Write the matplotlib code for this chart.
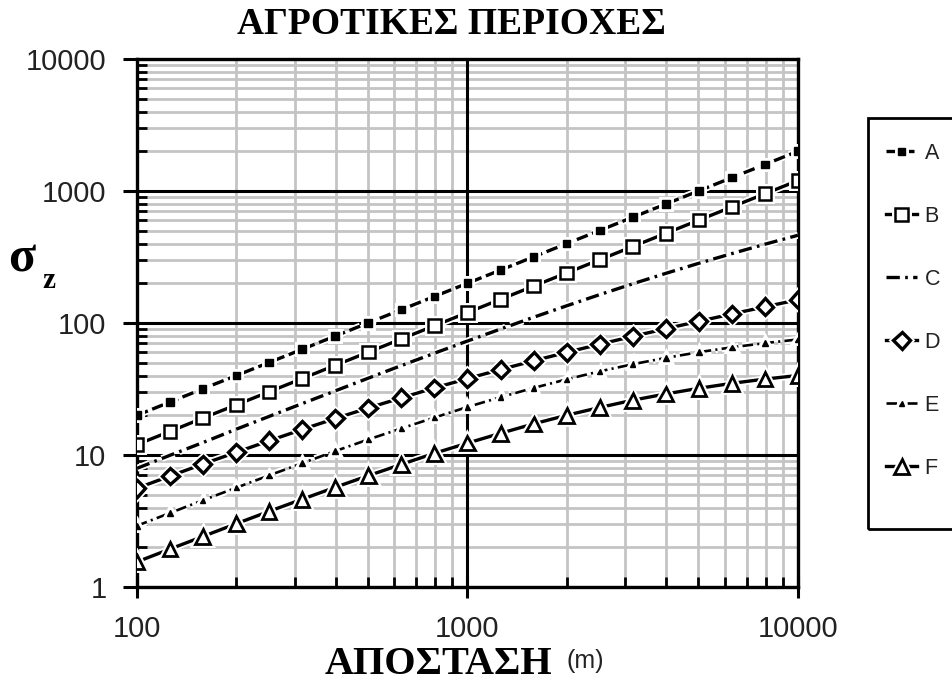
import matplotlib.pyplot as plt
import matplotlib.patheffects as pe
from matplotlib.patches import Rectangle
from matplotlib.ticker import LogLocator, NullFormatter, FixedLocator, FixedFormatter

plt.rcParams['font.family'] = ['Liberation Sans', 'DejaVu Sans']

# distance (m)
distance = [100, 126, 158, 200, 251, 316, 398, 501, 631, 794, 1000,
            1259, 1585, 1995, 2512, 3162, 3981, 5012, 6310, 7943, 10000]

# sigma_z (m) per stability class
sz_A = [20.0, 25.2, 31.7, 40.0, 50.2, 63.2, 79.6, 100.2, 126.2, 158.8, 200.0,
        251.8, 317.0, 399.0, 502.4, 632.4, 796.2, 1002.4, 1262.0, 1588.6, 2000.0]
sz_B = [12.0, 15.1, 19.0, 24.0, 30.1, 37.9, 47.8, 60.1, 75.7, 95.3, 120.0,
        151.1, 190.2, 239.4, 301.4, 379.5, 477.7, 601.4, 757.2, 953.2, 1200.0]
sz_C = [7.92, 9.96, 12.4, 15.7, 19.6, 24.5, 30.6, 38.2, 47.6, 59.0, 73.0,
        90.0, 110.5, 134.9, 164.0, 198.0, 237.6, 283.4, 335.6, 395.0, 461.9]
sz_D = [5.60, 6.93, 8.52, 10.5, 12.8, 15.6, 18.9, 22.7, 27.1, 32.2, 37.9,
        44.4, 51.7, 59.9, 69.0, 79.2, 90.5, 103.0, 117.0, 132.6, 150.0]
sz_E = [2.91, 3.64, 4.53, 5.66, 7.00, 8.66, 10.7, 13.1, 15.9, 19.2, 23.1,
        27.4, 32.2, 37.4, 43.0, 48.7, 54.4, 60.1, 65.4, 70.4, 75.0]
sz_F = [1.55, 1.94, 2.41, 3.02, 3.74, 4.62, 5.69, 6.97, 8.49, 10.3, 12.3,
        14.6, 17.2, 20.0, 22.9, 26.0, 29.0, 32.0, 34.9, 37.6, 40.0]

x_ticks = [100, 1000, 10000]
x_tick_labels = ['100', '1000', '10000']
y_ticks = [1, 10, 100, 1000, 10000]
y_tick_labels = ['1', '10', '100', '1000', '10000']

fig = plt.figure(figsize=(9.52, 6.90), dpi=100)
ax = fig.add_axes([0.1439, 0.1493, 0.8382 - 0.1439, 0.9145 - 0.1493])

halo = [pe.Stroke(linewidth=5, foreground='white'), pe.Normal()]
lw = 2.4

ax.plot(distance, sz_A, color='black', lw=lw, ls=(0, (3.5, 1.4)), marker='s',
        ms=5.5, mfc='black', mec='black', label='A', path_effects=halo, zorder=5)
ax.plot(distance, sz_B, color='black', lw=lw, ls='-', marker='s',
        ms=9, mfc='white', mec='black', mew=1.8, label='B', path_effects=halo, zorder=5)
ax.plot(distance, sz_C, color='black', lw=lw, ls=(0, (4, 1.6, 0.8, 1.6)),
        label='C', path_effects=halo, zorder=5)
ax.plot(distance, sz_D, color='black', lw=lw, ls='-', marker='D',
        ms=8.5, mfc='white', mec='black', mew=2.4, label='D', path_effects=halo, zorder=5)
ax.plot(distance, sz_E, color='black', lw=1.9, ls=(0, (4, 1.6, 0.8, 1.6)), marker='^',
        ms=4, mfc='black', mec='black', label='E', path_effects=halo, zorder=5)
ax.plot(distance, sz_F, color='black', lw=lw, ls='-', marker='^',
        ms=10.5, mfc='white', mec='black', mew=2.0, label='F', path_effects=halo, zorder=5)

ax.set_xscale('log')
ax.set_yscale('log')
ax.set_xlim(100, 10000)
ax.set_ylim(1, 10000)

ax.xaxis.set_major_locator(FixedLocator(x_ticks))
ax.xaxis.set_major_formatter(FixedFormatter(x_tick_labels))
ax.yaxis.set_major_locator(FixedLocator(y_ticks))
ax.yaxis.set_major_formatter(FixedFormatter(y_tick_labels))
ax.xaxis.set_minor_locator(LogLocator(base=10, subs=range(2, 10)))
ax.yaxis.set_minor_locator(LogLocator(base=10, subs=range(2, 10)))
ax.xaxis.set_minor_formatter(NullFormatter())
ax.yaxis.set_minor_formatter(NullFormatter())

ax.grid(which='minor', color='#c4c4c4', lw=2.0)
ax.grid(axis='y', which='major', color='black', lw=2.2)
for t in x_ticks[1:-1]:
    ax.axvline(t, color='black', lw=2.2, zorder=0.6)
ax.set_axisbelow(True)

for s in ax.spines.values():
    s.set_linewidth(2.4)

ax.tick_params(which='major', direction='out', length=10, width=2.2, labelsize=21,
               pad=12, labelcolor='#222222')
ax.tick_params(axis='x', which='major', direction='inout', length=16, pad=12)
ax.tick_params(which='minor', direction='in', length=7, width=2)

fig.text(451 / 952, 1 - 25 / 690, 'ΑΓΡΟΤΙΚΕΣ ΠΕΡΙΟΧΕΣ', family='Liberation Serif',
         fontweight='bold', fontsize=27, ha='center', va='center')

fig.text(22 / 952, 1 - 260 / 690, 'σ', family='Liberation Serif',
         fontweight='bold', fontsize=36, ha='center', va='center')
fig.text(49 / 952, 1 - 281 / 690, 'z', family='Liberation Serif',
         fontweight='bold', fontsize=21, ha='center', va='center')

fig.text(325 / 952, 1 - 664 / 690, 'ΑΠΟΣΤΑΣΗ', family='Liberation Serif',
         fontweight='bold', fontsize=29, ha='left', va='center')
fig.text(566 / 952, 1 - 661 / 690, '(m)', fontsize=18, ha='left', va='center',
         color='#222222')

# legend box runs past the right edge of the picture
fig.patches.append(Rectangle((868 / 952, 1 - 529 / 690), 0.3, (529 - 118) / 690,
                             transform=fig.transFigure, fill=False,
                             edgecolor='black', lw=2.0))
leg = ax.legend(loc='upper left', bbox_to_anchor=(886 / 952, 1 - 143 / 690),
                bbox_transform=fig.transFigure, fontsize=15.5, frameon=False,
                labelspacing=1.95, handlelength=1.45, handletextpad=0.35,
                borderpad=0, borderaxespad=0)
for txt in leg.get_texts():
    txt.set_color('#222222')

fig.savefig('out.png', dpi=100, facecolor='white')
